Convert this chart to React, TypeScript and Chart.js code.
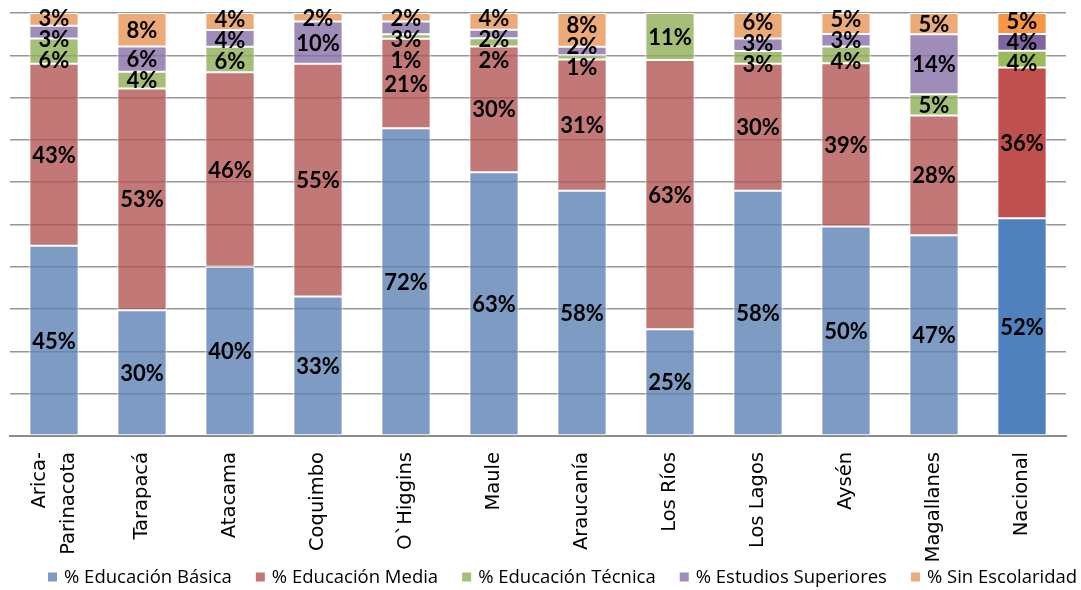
import React, { useEffect, useRef } from 'react';
import { Chart, registerables } from 'chart.js';

Chart.register(...registerables);

const categories: (string | string[])[] = [
  ['Arica-', 'Parinacota'], 'Tarapacá', 'Atacama', 'Coquimbo', 'O`Higgins', 'Maule',
  'Araucanía', 'Los Ríos', 'Los Lagos', 'Aysén', 'Magallanes', 'Nacional',
];
const seriesNames = [
  '% Educación Básica', '% Educación Media', '% Educación Técnica',
  '% Estudios Superiores', '% Sin Escolaridad',
];
const basica = [45, 30, 40, 33, 72, 63, 58, 25, 58, 50, 47, 52];
const media = [43, 53, 46, 55, 21, 30, 31, 63, 30, 39, 28, 36];
const tecnica = [6, 4, 6, 0, 1, 2, 1, 11, 3, 4, 5, 4];
const superiores = [3, 6, 4, 10, 3, 2, 2, 0, 3, 3, 14, 4];
const sinEscolaridad = [3, 8, 4, 2, 2, 4, 8, 0, 6, 5, 5, 5];

const series = [basica, media, tecnica, superiores, sinEscolaridad];
const solidColors = ['#4f81bd', '#c0504d', '#9bbb59', '#8064a2', '#f79646'];
const softColors = [
  'rgba(93,130,180,0.8)', 'rgba(180,86,86,0.8)', 'rgba(142,174,86,0.8)',
  'rgba(136,111,167,0.8)', 'rgba(230,149,86,0.8)',
];

const totals = categories.map((_, i) => series.reduce((s, arr) => s + arr[i], 0));

const labelPlugin = {
  id: 'stackLabels',
  afterDatasetsDraw(chart: any) {
    const ctx = chart.ctx;
    const n = categories.length;
    const gap = 21;
    const minY = chart.chartArea.top + 5;
    ctx.save();
    ctx.font = 'bold 22px Lato';
    ctx.fillStyle = '#000';
    ctx.textAlign = 'center';
    ctx.textBaseline = 'middle';
    for (let i = 0; i < n; i++) {
      const items: any[] = [];
      for (let d = series.length - 1; d >= 0; d--) {
        const raw = series[d][i];
        if (!raw) continue;
        const el = chart.getDatasetMeta(d).data[i];
        const p = el.getProps(['x', 'y', 'base'], true);
        items.push({ x: p.x, want: (p.y + p.base) / 2, text: raw + '%' });
      }
      const clusters: any[] = items.map((it) => ({ members: [it], start: 0 }));
      const place = (c: any) => {
        const mean = c.members.reduce((s: number, m: any) => s + m.want, 0) / c.members.length;
        let start = mean - ((c.members.length - 1) * gap) / 2;
        if (start < minY) start = minY;
        c.start = start;
      };
      clusters.forEach(place);
      let merged = true;
      while (merged) {
        merged = false;
        for (let k = 0; k < clusters.length - 1; k++) {
          const a = clusters[k];
          const b = clusters[k + 1];
          const aEnd = a.start + (a.members.length - 1) * gap;
          if (b.start - aEnd < gap) {
            a.members = a.members.concat(b.members);
            place(a);
            clusters.splice(k + 1, 1);
            merged = true;
            break;
          }
        }
      }
      clusters.forEach((c) => {
        c.members.forEach((m: any, j: number) => {
          ctx.fillText(m.text, m.x, c.start + j * gap + 1);
        });
      });
    }
    ctx.restore();
  },
};

const axisLabelPlugin = {
  id: 'categoryLabels',
  afterDraw(chart: any) {
    const ctx = chart.ctx;
    const xs = chart.scales.x;
    const lineH = 29;
    const top = chart.chartArea.bottom + 16;
    ctx.save();
    ctx.font = '19.5px "DejaVu Sans"';
    ctx.fillStyle = '#000';
    ctx.textAlign = 'right';
    ctx.textBaseline = 'middle';
    categories.forEach((cat, i) => {
      const lines = Array.isArray(cat) ? cat : [cat];
      const cx = xs.getPixelForValue(i);
      lines.forEach((line, j) => {
        const lx = cx + (j - (lines.length - 1) / 2) * lineH;
        ctx.save();
        ctx.translate(lx, top);
        ctx.rotate(-Math.PI / 2);
        ctx.fillText(line, 0, 0);
        ctx.restore();
      });
    });
    ctx.restore();
  },
};

const legendPlugin = {
  id: 'customLegend',
  afterDraw(chart: any) {
    const ctx = chart.ctx;
    ctx.save();
    ctx.font = '18.5px "Open Sans"';
    ctx.textBaseline = 'middle';
    ctx.textAlign = 'left';
    const y = chart.height - 13;
    const box = 9;
    const textGap = 7;
    const itemGap = 24;
    let x = 48;
    seriesNames.forEach((name, d) => {
      ctx.fillStyle = softColors[d];
      ctx.fillRect(x, y - box / 2, box, box);
      ctx.fillStyle = '#000';
      const tx = x + box + textGap;
      ctx.fillText(name, tx, y + 1);
      x = tx + ctx.measureText(name).width + itemGap;
    });
    ctx.restore();
  },
};

export default function App() {
  const ref = useRef<HTMLCanvasElement | null>(null);
  useEffect(() => {
    document.body.style.margin = '0';
    Chart.defaults.font.family = 'DejaVu Sans';
    const datasets = series.map((arr, d) => ({
      label: seriesNames[d],
      data: arr.map((v, i) => (v / totals[i]) * 100),
      backgroundColor: arr.map((_, i) => (i === arr.length - 1 ? solidColors[d] : softColors[d])),
      borderColor: '#ffffff',
      borderWidth: 1,
      borderSkipped: false,
      barPercentage: 0.56,
      categoryPercentage: 1,
    }));
    const chart = new Chart(ref.current as HTMLCanvasElement, {
      type: 'bar',
      data: { labels: categories as any, datasets },
      plugins: [labelPlugin, axisLabelPlugin, legendPlugin],
      options: {
        animation: false,
        responsive: true,
        maintainAspectRatio: false,
        layout: { padding: { left: 10, right: 15, top: 13, bottom: 27 } },
        plugins: {
          tooltip: { enabled: false },
          legend: { display: false },
        },
        scales: {
          x: {
            stacked: true,
            grid: { display: false },
            border: { display: true, color: '#8c8c8c', width: 2 },
            afterFit: (scale: any) => {
              scale.height = 127;
            },
            ticks: { display: false },
          },
          y: {
            stacked: true,
            min: 0,
            max: 100,
            ticks: { display: false, stepSize: 10 },
            grid: { color: '#969696', lineWidth: 1.5, drawTicks: false },
            border: { display: false },
          },
        },
      },
    });
    return () => chart.destroy();
  }, []);
  return (
    <div style={{ width: 1081, height: 590, position: 'relative' }}>
      <canvas ref={ref} />
    </div>
  );
}
